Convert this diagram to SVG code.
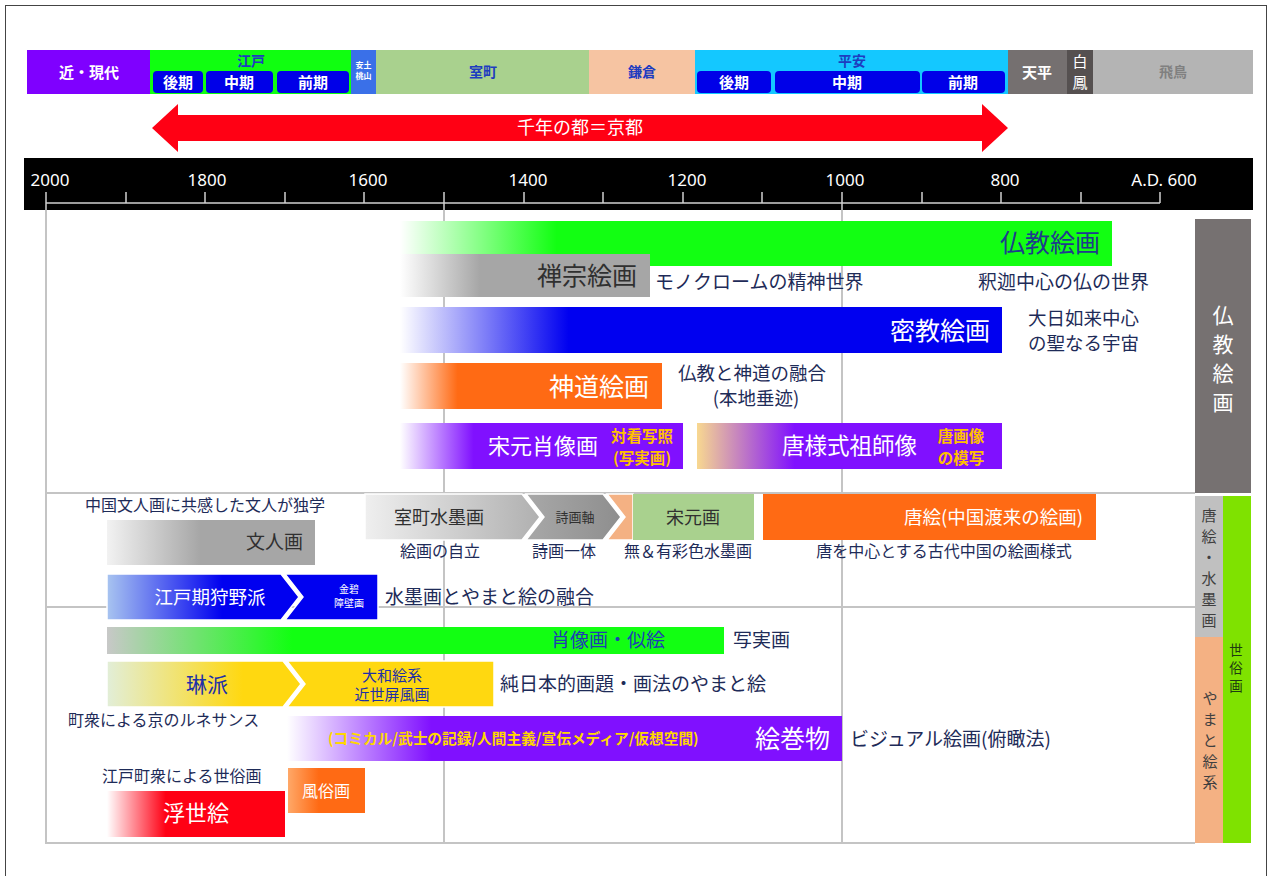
<svg xmlns="http://www.w3.org/2000/svg" width="1272" height="876" viewBox="0 0 1272 876">
<style>
text{font-family:"Noto Sans CJK JP","Noto Sans",sans-serif;}
.w{fill:#fff}
.eb{fill:#1e3cc0;font-size:14px;font-weight:bold}
.sub{fill:#fff;font-size:15px;font-weight:bold}
.ax{fill:#fff;font-family:"Noto Sans","Liberation Sans",sans-serif;font-size:17px}
.grid{stroke:#c4c4c4;stroke-width:2;fill:none}
.side{fill:#1e2b58;font-size:19px}
.side2{fill:#1e2b58;font-size:18.5px}
.note{fill:#1e2b58;font-size:16px}
.yel{fill:#ffc000;font-weight:bold}
.vt{text-anchor:middle}
</style>
<defs>
<linearGradient id="gGreen" x1="0" y1="0" x2="1" y2="0"><stop offset="0" stop-color="#fff"/><stop offset="0.22" stop-color="#12ff12"/><stop offset="1" stop-color="#12ff12"/></linearGradient>
<linearGradient id="gGray" x1="0" y1="0" x2="1" y2="0"><stop offset="0" stop-color="#fff"/><stop offset="0.32" stop-color="#a6a6a6"/><stop offset="1" stop-color="#a6a6a6"/></linearGradient>
<linearGradient id="gBlue" x1="0" y1="0" x2="1" y2="0"><stop offset="0" stop-color="#fff"/><stop offset="0.28" stop-color="#0000f0"/><stop offset="1" stop-color="#0000f0"/></linearGradient>
<linearGradient id="gOrange" x1="0" y1="0" x2="1" y2="0"><stop offset="0" stop-color="#fff"/><stop offset="0.22" stop-color="#ff6a14"/><stop offset="1" stop-color="#ff6a14"/></linearGradient>
<linearGradient id="gPurple" x1="0" y1="0" x2="1" y2="0"><stop offset="0" stop-color="#fff"/><stop offset="0.26" stop-color="#8010ff"/><stop offset="1" stop-color="#8010ff"/></linearGradient>
<linearGradient id="gTang" x1="0" y1="0" x2="1" y2="0"><stop offset="0" stop-color="#f8d890"/><stop offset="0.32" stop-color="#8010ff"/><stop offset="1" stop-color="#8010ff"/></linearGradient>
<linearGradient id="gBunjin" x1="0" y1="0" x2="1" y2="0"><stop offset="0" stop-color="#f2f2f2"/><stop offset="0.45" stop-color="#a6a6a6"/><stop offset="1" stop-color="#a6a6a6"/></linearGradient>
<linearGradient id="gMuro" x1="0" y1="0" x2="1" y2="0"><stop offset="0" stop-color="#efefef"/><stop offset="1" stop-color="#b0b0b0"/></linearGradient>
<linearGradient id="gShiga" x1="0" y1="0" x2="1" y2="0"><stop offset="0" stop-color="#a8a8a8"/><stop offset="1" stop-color="#8e8e8e"/></linearGradient>
<linearGradient id="gKano" x1="0" y1="0" x2="1" y2="0"><stop offset="0" stop-color="#a8c4f0"/><stop offset="0.6" stop-color="#0000f0"/><stop offset="1" stop-color="#0000f0"/></linearGradient>
<linearGradient id="gPortrait" x1="0" y1="0" x2="1" y2="0"><stop offset="0" stop-color="#c8c8c8"/><stop offset="0.3" stop-color="#12ff12"/><stop offset="1" stop-color="#12ff12"/></linearGradient>
<linearGradient id="gRinpa" x1="0" y1="0" x2="1" y2="0"><stop offset="0" stop-color="#e2eed8"/><stop offset="0.7" stop-color="#ffd810"/><stop offset="1" stop-color="#ffd810"/></linearGradient>
<linearGradient id="gEmaki" x1="0" y1="0" x2="1" y2="0"><stop offset="0" stop-color="#fff"/><stop offset="0.26" stop-color="#8010ff"/><stop offset="1" stop-color="#8010ff"/></linearGradient>
<linearGradient id="gUkiyo" x1="0" y1="0" x2="1" y2="0"><stop offset="0" stop-color="#fff"/><stop offset="0.33" stop-color="#ff0014"/><stop offset="1" stop-color="#ff0014"/></linearGradient>
<linearGradient id="gFuzoku" x1="0" y1="0" x2="1" y2="0"><stop offset="0" stop-color="#ffa868"/><stop offset="0.4" stop-color="#ff6a14"/><stop offset="1" stop-color="#ff6a14"/></linearGradient>
</defs>

<rect x="5.5" y="5.5" width="1261" height="900" fill="#fff" stroke="#444" stroke-width="1"/>

<!-- era bar -->
<g id="eras">
<rect x="27" y="50" width="124" height="44" fill="#7f00ff"/>
<text x="89" y="78" text-anchor="middle" class="w" font-size="15" font-weight="bold">近・現代</text>
<rect x="150" y="50" width="202" height="44" fill="#10ff10"/>
<text x="251" y="66" text-anchor="middle" class="eb" font-size="13">江戸</text>
<rect x="153" y="71" width="50" height="22" rx="4" fill="#0000e8"/>
<text x="178" y="88" text-anchor="middle" class="sub">後期</text>
<rect x="206" y="71" width="67" height="22" rx="4" fill="#0000e8"/>
<text x="239" y="88" text-anchor="middle" class="sub">中期</text>
<rect x="277" y="71" width="72" height="22" rx="4" fill="#0000e8"/>
<text x="313" y="88" text-anchor="middle" class="sub">前期</text>
<rect x="351" y="50" width="25" height="44" fill="#3a70e8"/>
<text x="363.5" y="68" text-anchor="middle" class="w" font-size="8" font-weight="bold">安土</text>
<text x="363.5" y="79" text-anchor="middle" class="w" font-size="8" font-weight="bold">桃山</text>
<rect x="376" y="50" width="213" height="44" fill="#a9d18e"/>
<text x="483" y="77" text-anchor="middle" class="eb">室町</text>
<rect x="589" y="50" width="106" height="44" fill="#f6c4a2"/>
<text x="642" y="77" text-anchor="middle" class="eb">鎌倉</text>
<rect x="695" y="50" width="313" height="44" fill="#14c8ff"/>
<text x="852" y="66" text-anchor="middle" class="eb" font-size="13">平安</text>
<rect x="697" y="71" width="74" height="22" rx="4" fill="#0000e8"/>
<text x="734" y="88" text-anchor="middle" class="sub">後期</text>
<rect x="775" y="71" width="145" height="22" rx="4" fill="#0000e8"/>
<text x="847" y="88" text-anchor="middle" class="sub">中期</text>
<rect x="922" y="71" width="83" height="22" rx="4" fill="#0000e8"/>
<text x="963" y="88" text-anchor="middle" class="sub">前期</text>
<rect x="1008" y="50" width="59" height="44" fill="#757070"/>
<text x="1037" y="78" text-anchor="middle" class="w" font-size="15" font-weight="bold">天平</text>
<rect x="1067" y="50" width="26" height="44" fill="#555050"/>
<text x="1080" y="67" text-anchor="middle" class="w" font-size="15">白</text>
<text x="1080" y="88" text-anchor="middle" class="w" font-size="15">鳳</text>
<rect x="1093" y="50" width="160" height="44" fill="#b4b4b4"/>
<text x="1173" y="77" text-anchor="middle" fill="#808080" font-size="14" font-weight="bold">飛鳥</text>
</g>

<!-- capital arrow -->
<g id="capital">
<polygon points="152,128 178,104 178,115 982,115 982,104 1008,128 982,152 982,141 178,141 178,152" fill="#ff0014"/>
<text x="580" y="134" text-anchor="middle" class="w" font-size="18">千年の都＝京都</text>
</g>

<!-- grid -->
<g id="grid">
<line class="grid" x1="46" y1="210" x2="46" y2="844"/>
<line class="grid" x1="444" y1="210" x2="444" y2="844"/>
<line class="grid" x1="842" y1="210" x2="842" y2="844"/>
<line class="grid" x1="46" y1="493" x2="1195" y2="493"/>
<line class="grid" x1="46" y1="607" x2="1195" y2="607"/>
<line class="grid" x1="46" y1="843" x2="1195" y2="843"/>
</g>

<!-- timeline -->
<g id="timeline">
<rect x="24" y="158" width="1229" height="52" fill="#000"/>
<g stroke="#d0d0d0" stroke-width="1.5">
<line x1="46" y1="203" x2="1160" y2="203"/>
<line x1="46" y1="192" x2="46" y2="210"/>
<line x1="126" y1="192" x2="126" y2="203"/>
<line x1="205" y1="192" x2="205" y2="203"/>
<line x1="285" y1="192" x2="285" y2="203"/>
<line x1="364" y1="192" x2="364" y2="203"/>
<line x1="444" y1="192" x2="444" y2="210"/>
<line x1="524" y1="192" x2="524" y2="203"/>
<line x1="603" y1="192" x2="603" y2="203"/>
<line x1="683" y1="192" x2="683" y2="203"/>
<line x1="762" y1="192" x2="762" y2="203"/>
<line x1="842" y1="192" x2="842" y2="210"/>
<line x1="922" y1="192" x2="922" y2="203"/>
<line x1="1001" y1="192" x2="1001" y2="203"/>
<line x1="1081" y1="192" x2="1081" y2="203"/>
<line x1="1160" y1="192" x2="1160" y2="203"/>
</g>
<text x="50" y="186" text-anchor="middle" class="ax">2000</text>
<text x="207" y="186" text-anchor="middle" class="ax">1800</text>
<text x="368" y="186" text-anchor="middle" class="ax">1600</text>
<text x="528" y="186" text-anchor="middle" class="ax">1400</text>
<text x="687" y="186" text-anchor="middle" class="ax">1200</text>
<text x="845" y="186" text-anchor="middle" class="ax">1000</text>
<text x="1005" y="186" text-anchor="middle" class="ax">800</text>
<text x="1164" y="186" text-anchor="middle" class="ax">A.D. 600</text>
</g>

<!-- side category labels -->
<g id="cat-buddhist" class="w" font-size="21">
<rect x="1195" y="219" width="56" height="274" fill="#767171"/>
<text x="1223" y="323" class="vt">仏</text>
<text x="1223" y="352" class="vt">教</text>
<text x="1223" y="381" class="vt">絵</text>
<text x="1223" y="410" class="vt">画</text>
</g>
<g id="cat-kara" fill="#404040" font-size="15">
<rect x="1195" y="496" width="28" height="141" fill="#c0c0c0"/>
<text x="1209" y="521" class="vt">唐</text>
<text x="1209" y="542" class="vt">絵</text>
<text x="1209" y="563" class="vt">・</text>
<text x="1209" y="584" class="vt">水</text>
<text x="1209" y="605" class="vt">墨</text>
<text x="1209" y="626" class="vt">画</text>
</g>
<g id="cat-yamato" fill="#404040" font-size="15">
<rect x="1195" y="637" width="28" height="206" fill="#f4b183"/>
<text x="1210" y="704" class="vt">や</text>
<text x="1210" y="725" class="vt">ま</text>
<text x="1210" y="746" class="vt">と</text>
<text x="1210" y="767" class="vt">絵</text>
<text x="1210" y="788" class="vt">系</text>
</g>
<g id="cat-secular" fill="#1e3a10" font-size="13.5">
<rect x="1223" y="496" width="28" height="347" fill="#7fe200"/>
<text x="1236" y="655" class="vt">世</text>
<text x="1236" y="673" class="vt">俗</text>
<text x="1236" y="691" class="vt">画</text>
</g>

<!-- Buddhist section -->
<g id="bukkyo">
<rect x="400" y="221" width="712" height="45" fill="url(#gGreen)"/>
<text x="1100" y="252" text-anchor="end" fill="#1e3c8c" font-size="25">仏教絵画</text>
<text x="978" y="289" class="side">釈迦中心の仏の世界</text>
</g>
<g id="zen">
<rect x="400" y="254" width="250" height="43" fill="url(#gGray)"/>
<text x="637" y="285" text-anchor="end" fill="#303030" font-size="25">禅宗絵画</text>
<text x="655" y="289" class="side">モノクロームの精神世界</text>
</g>
<g id="mikkyo">
<rect x="400" y="307" width="602" height="46" fill="url(#gBlue)"/>
<text x="990" y="340" text-anchor="end" class="w" font-size="25">密教絵画</text>
<text x="1028" y="325" class="side2">大日如来中心</text>
<text x="1028" y="350" class="side2">の聖なる宇宙</text>
</g>
<g id="shinto">
<rect x="400" y="363" width="262" height="46" fill="url(#gOrange)"/>
<text x="649" y="396" text-anchor="end" class="w" font-size="25">神道絵画</text>
<text x="678" y="380" class="side2">仏教と神道の融合</text>
<text x="756" y="405" text-anchor="middle" class="side2">(本地垂迹)</text>
</g>
<g id="sogen-portrait">
<rect x="400" y="423" width="283" height="46" fill="url(#gPurple)"/>
<text x="598" y="454" text-anchor="end" class="w" font-size="22">宋元肖像画</text>
<text x="642" y="442" text-anchor="middle" class="yel" font-size="15.5">対看写照</text>
<text x="642" y="464" text-anchor="middle" class="yel" font-size="15.5">(写実画)</text>
</g>
<g id="tang-portrait">
<rect x="697" y="423" width="305" height="46" fill="url(#gTang)"/>
<text x="917" y="454" text-anchor="end" class="w" font-size="22.5">唐様式祖師像</text>
<text x="961" y="442" text-anchor="middle" class="yel" font-size="15.5">唐画像</text>
<text x="961" y="464" text-anchor="middle" class="yel" font-size="15.5">の模写</text>
</g>

<!-- Kara-e / ink section -->
<g id="bunjin">
<text x="85" y="511" class="note">中国文人画に共感した文人が独学</text>
<rect x="107" y="520" width="208" height="45" fill="url(#gBunjin)"/>
<text x="303" y="549" text-anchor="end" fill="#303030" font-size="19">文人画</text>
</g>
<g id="muromachi-ink">
<polygon points="365,494 522,494 540,517 522,540 365,540" fill="url(#gMuro)" stroke="#fff" stroke-width="1.5"/>
<text x="439" y="524" text-anchor="middle" fill="#303030" font-size="18">室町水墨画</text>
<text x="440" y="557" text-anchor="middle" class="note">絵画の自立</text>
</g>
<g id="shigajiku">
<polygon points="526,494 603,494 621,517 603,540 526,540 544,517" fill="url(#gShiga)" stroke="#fff" stroke-width="1.5"/>
<text x="575" y="522" text-anchor="middle" fill="#303030" font-size="13">詩画軸</text>
<text x="564" y="557" text-anchor="middle" class="note">詩画一体</text>
</g>
<g id="sogen-ga">
<polygon points="607,494 633,494 633,540 607,540 625,517" fill="#f4b183" stroke="#fff" stroke-width="1.5"/>
<rect x="633" y="494" width="121" height="46" fill="#a9d18e"/>
<text x="693" y="524" text-anchor="middle" fill="#303030" font-size="18">宋元画</text>
<text x="688" y="557" text-anchor="middle" class="note">無＆有彩色水墨画</text>
</g>
<g id="kara-e">
<rect x="763" y="494" width="333" height="46" fill="#ff6a14"/>
<text x="1083" y="524" text-anchor="end" class="w" font-size="18.5">唐絵(中国渡来の絵画)</text>
<text x="944" y="557" text-anchor="middle" class="note">唐を中心とする古代中国の絵画様式</text>
</g>
<g id="kano">
<polygon points="107,574 281,574 299,597 281,620 107,620" fill="url(#gKano)" stroke="#fff" stroke-width="1.5"/>
<text x="210" y="604" text-anchor="middle" class="w" font-size="18.5">江戸期狩野派</text>
<polygon points="285,574 378,574 378,620 285,620 303,597" fill="#0000f0" stroke="#fff" stroke-width="1.5"/>
<text x="349" y="593" text-anchor="middle" class="w" font-size="10">金碧</text>
<text x="349" y="607" text-anchor="middle" class="w" font-size="10">障壁画</text>
<text x="385" y="604" class="side">水墨画とやまと絵の融合</text>
</g>

<!-- secular / yamato-e section -->
<g id="nise-e">
<rect x="107" y="627" width="617" height="27" fill="url(#gPortrait)"/>
<text x="665" y="647" text-anchor="end" fill="#1e3cb4" font-size="19">肖像画・似絵</text>
<text x="733" y="647" class="side">写実画</text>
</g>
<g id="rinpa">
<polygon points="107,661 283,661 301,684 283,707 107,707" fill="url(#gRinpa)" stroke="#fff" stroke-width="1.5"/>
<text x="207" y="692" text-anchor="middle" fill="#1e30a8" font-size="21">琳派</text>
<polygon points="287,661 494,661 494,707 287,707 305,684" fill="#ffd810" stroke="#fff" stroke-width="1.5"/>
<text x="392" y="681" text-anchor="middle" fill="#1e30a8" font-size="15">大和絵系</text>
<text x="392" y="700" text-anchor="middle" fill="#1e30a8" font-size="15">近世屏風画</text>
<text x="500" y="691" class="side">純日本的画題・画法のやまと絵</text>
</g>
<g id="emaki">
<text x="68" y="726" class="note">町衆による京のルネサンス</text>
<rect x="287" y="716" width="555" height="45" fill="url(#gEmaki)"/>
<text x="328" y="744" fill="#ffd700" font-size="14.7" font-weight="bold">(コミカル/武士の記録/人間主義/宣伝メディア/仮想空間)</text>
<text x="830" y="748" text-anchor="end" class="w" font-size="25">絵巻物</text>
<text x="850" y="746" class="side">ビジュアル絵画(俯瞰法)</text>
</g>
<g id="fuzoku">
<rect x="288" y="768" width="77" height="45" fill="url(#gFuzoku)"/>
<text x="326" y="797" text-anchor="middle" class="w" font-size="16">風俗画</text>
</g>
<g id="ukiyoe">
<text x="102" y="782" class="note">江戸町衆による世俗画</text>
<rect x="107" y="791" width="178" height="46" fill="url(#gUkiyo)"/>
<text x="196" y="821" text-anchor="middle" class="w" font-size="22">浮世絵</text>
</g>
</svg>
